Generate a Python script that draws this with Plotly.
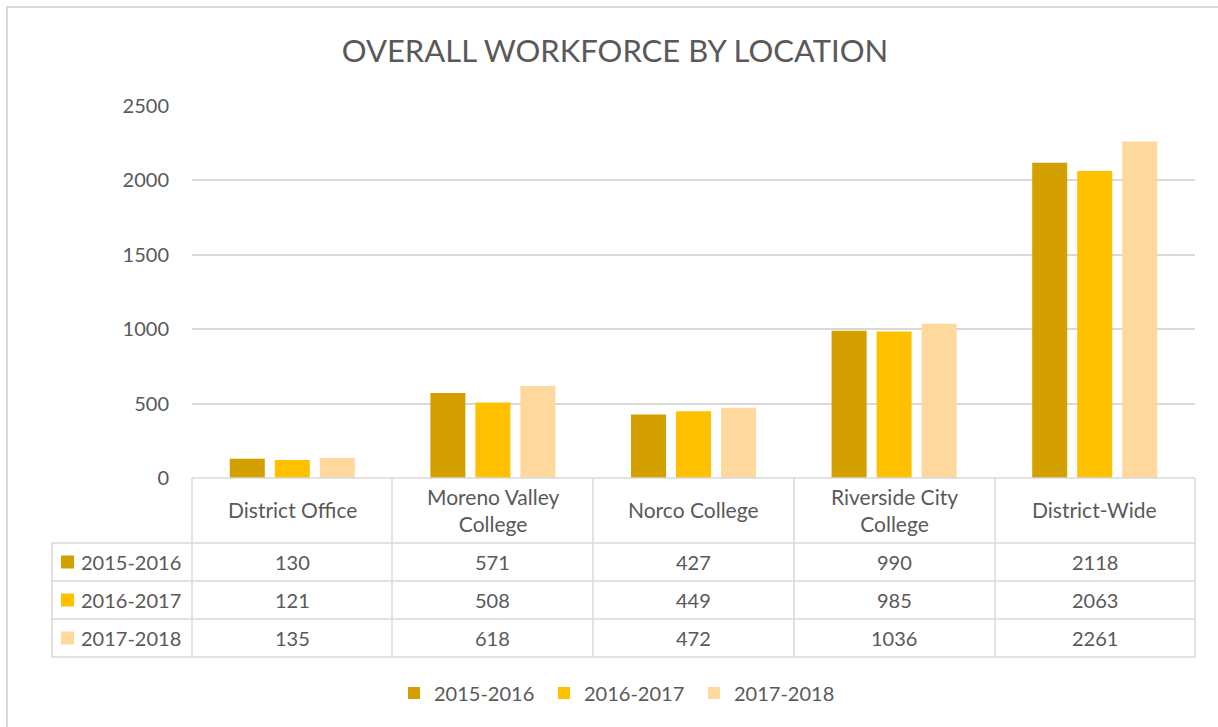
import plotly.graph_objects as go

categories = ["District Office", "Moreno Valley College", "Norco College",
              "Riverside City College", "District-Wide"]
header_labels = ["District Office", "Moreno Valley<br>College", "Norco College",
                 "Riverside City<br>College", "District-Wide"]
series_names = ["2015-2016", "2016-2017", "2017-2018"]
v_2015_2016 = [130, 571, 427, 990, 2118]
v_2016_2017 = [121, 508, 449, 985, 2063]
v_2017_2018 = [135, 618, 472, 1036, 2261]
y_ticks = [0, 500, 1000, 1500, 2000, 2500]

series_values = [v_2015_2016, v_2016_2017, v_2017_2018]
colors = ["#D4A000", "#FFC000", "#FFD89E"]

W, H = 1218, 727
PL, PR, PT, PB = 192, 1195, 106, 478  # plot area in pixels
FONT = "Lato"
TXT = "#595959"
GRID = "#D9D9D9"


def px(x):
    return (x - PL) / (PR - PL)


def py(y):
    return (PB - y) / (PB - PT)


fig = go.Figure()
for name, vals, col in zip(series_names, series_values, colors):
    fig.add_trace(go.Bar(x=categories, y=vals, name=name,
                         marker=dict(color=col, line=dict(width=0))))

shapes = []
annotations = []

# outer chart border
shapes.append(dict(type="rect", xref="paper", yref="paper",
                   x0=px(7), x1=px(1240), y0=py(7), y1=py(760),
                   line=dict(color=GRID, width=2), layer="below"))

# data table lines
col_edges = [192, 392, 593, 794, 995, 1195]
row_edges = [543, 581, 619, 657]
line_style = dict(color=GRID, width=1.5)
shapes.append(dict(type="line", xref="paper", yref="paper", x0=px(192), x1=px(1195),
                   y0=py(478), y1=py(478), line=line_style))
for ry in row_edges:
    shapes.append(dict(type="line", xref="paper", yref="paper", x0=px(52), x1=px(1195),
                       y0=py(ry), y1=py(ry), line=line_style))
for cx in col_edges:
    shapes.append(dict(type="line", xref="paper", yref="paper", x0=px(cx), x1=px(cx),
                       y0=py(478), y1=py(657), line=line_style))
shapes.append(dict(type="line", xref="paper", yref="paper", x0=px(52), x1=px(52),
                   y0=py(543), y1=py(657), line=line_style))

# header cells
for cat, lab in zip(categories, header_labels):
    annotations.append(dict(x=cat, xref="x", y=py(509.5), yref="paper", text=lab,
                            showarrow=False, font=dict(family=FONT, size=21, color=TXT),
                            xanchor="center", yanchor="middle"))

# value rows
row_centers = [562, 600, 638]
for rc, name, vals, col in zip(row_centers, series_names, series_values, colors):
    shapes.append(dict(type="rect", xref="paper", yref="paper",
                       x0=px(61), x1=px(74), y0=py(rc - 6.5), y1=py(rc + 6.5),
                       fillcolor=col, line=dict(width=0)))
    annotations.append(dict(x=px(79), xref="paper", y=py(rc), yref="paper", text=name,
                            showarrow=False, font=dict(family=FONT, size=20, color=TXT),
                            xanchor="left", yanchor="middle"))
    for cat, v in zip(categories, vals):
        annotations.append(dict(x=cat, xref="x", y=py(rc), yref="paper", text=str(v),
                                showarrow=False, font=dict(family=FONT, size=20, color=TXT),
                                xanchor="center", yanchor="middle"))

fig.update_layout(
    width=W, height=H,
    margin=dict(l=PL, r=W - PR, t=PT, b=H - PB, pad=0, autoexpand=False),
    paper_bgcolor="white", plot_bgcolor="white",
    title=dict(text="OVERALL WORKFORCE BY LOCATION", x=615 / W, xanchor="center",
               y=1 - 51 / H, yanchor="middle",
               font=dict(family=FONT, size=31, color=TXT)),
    barmode="group", bargap=0.327, bargroupgap=0.222,
    xaxis=dict(showticklabels=False, showgrid=False, zeroline=False, showline=False,
               ticks=""),
    yaxis=dict(range=[0, 2500], tickvals=y_ticks, showgrid=True, gridcolor=GRID,
               gridwidth=1.5, zeroline=False, showline=False, ticks="",
               ticklabelstandoff=22,
               tickfont=dict(family=FONT, size=20, color=TXT)),
    showlegend=True,
    legend=dict(orientation="h", x=px(394), xanchor="left", y=py(693), yanchor="middle",
                font=dict(family=FONT, size=20, color=TXT), bgcolor="rgba(0,0,0,0)",
                entrywidth=105, entrywidthmode="pixels", itemwidth=30),
    shapes=shapes, annotations=annotations,
)

fig.write_html("out.html", config={"displayModeBar": False},
               post_script="document.body.style.margin='0';document.body.style.overflow='hidden';")
